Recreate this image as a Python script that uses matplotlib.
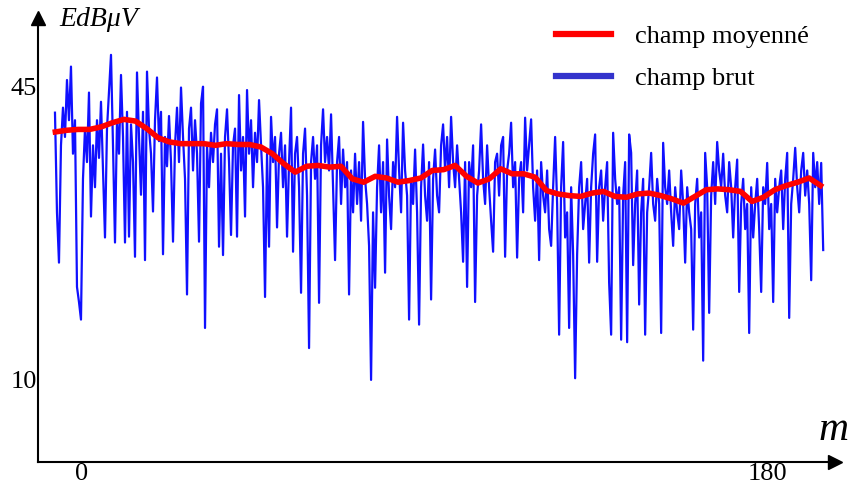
import matplotlib
matplotlib.use("Agg")
import matplotlib.pyplot as plt
from matplotlib.lines import Line2D
import numpy as np

# champ brut (dB uV), de m = -7.1 a m = 194.7
champ_brut = [
    41.9, 30.0, 24.0, 38.0, 42.5, 39.0, 45.8, 41.0, 47.4, 37.0,
    41.0, 21.1, 19.3, 17.2, 34.0, 40.0, 36.0, 44.3, 29.5, 38.0,
    33.0, 41.0, 36.5, 43.2, 35.0, 27.0, 40.0, 44.5, 48.8, 38.0,
    26.4, 41.0, 37.0, 46.4, 39.0, 26.4, 42.0, 27.1, 40.5, 36.0,
    24.7, 46.7, 39.0, 32.1, 42.0, 24.3, 46.8, 40.0, 37.0, 30.1,
    41.0, 46.1, 38.5, 42.0, 25.0, 39.0, 35.5, 41.5, 36.0, 26.5,
    38.0, 42.5, 36.0, 44.9, 39.0, 34.0, 20.2, 40.0, 42.5, 35.0,
    41.0, 37.0, 26.5, 43.0, 45.0, 16.2, 38.0, 33.0, 39.5, 36.0,
    40.5, 42.3, 25.9, 37.0, 24.9, 39.0, 42.3, 36.0, 27.3, 38.0,
    40.0, 27.1, 44.0, 35.0, 39.0, 29.5, 44.6, 37.0, 41.0, 33.0,
    39.5, 36.0, 43.4, 38.0, 33.0, 19.9, 37.0, 25.9, 41.4, 36.0,
    39.0, 28.2, 37.0, 39.5, 33.0, 38.0, 27.1, 36.0, 42.5, 25.3,
    37.0, 39.0, 33.0, 20.4, 37.0, 40.0, 32.0, 13.8, 36.0, 39.0,
    34.0, 38.0, 19.2, 38.0, 42.3, 36.0, 39.0, 35.0, 41.7, 33.0,
    24.3, 36.0, 39.0, 31.0, 37.5, 33.0, 36.0, 20.2, 35.0, 30.0,
    37.0, 31.0, 36.0, 29.0, 40.8, 34.0, 31.0, 26.0, 10.0, 30.0,
    21.0, 33.0, 38.0, 30.0, 36.0, 22.8, 38.7, 32.0, 28.0, 36.0,
    33.0, 41.4, 35.0, 30.0, 40.7, 35.0, 32.0, 17.2, 34.0, 31.0,
    37.5, 30.0, 16.6, 33.0, 38.1, 32.0, 29.0, 36.0, 19.6, 34.0,
    37.5, 32.0, 30.0, 38.0, 40.5, 35.0, 39.0, 33.0, 41.4, 36.0,
    33.0, 38.0, 34.0, 30.0, 24.1, 36.0, 21.1, 36.0, 33.0, 38.0,
    19.3, 32.0, 35.0, 40.5, 34.0, 31.0, 38.0, 33.0, 29.0, 25.3,
    36.0, 37.0, 32.0, 38.0, 39.0, 24.7, 35.0, 37.0, 40.7, 33.0,
    36.0, 24.6, 34.0, 36.0, 30.0, 41.3, 35.0, 38.0, 41.1, 33.0,
    29.0, 35.0, 24.3, 36.0, 32.0, 30.0, 35.0, 28.0, 26.0, 33.0,
    39.0, 31.0, 15.4, 33.0, 38.4, 27.0, 30.0, 16.2, 33.0, 25.0,
    10.2, 25.0, 33.0, 36.0, 28.0, 31.0, 34.0, 24.0, 33.0, 37.0,
    39.3, 24.1, 33.0, 35.0, 29.0, 33.0, 36.0, 21.6, 15.4, 39.5,
    34.0, 31.0, 33.0, 14.8, 32.0, 36.0, 14.5, 39.3, 37.1, 23.7,
    31.0, 35.0, 19.0, 30.0, 34.0, 15.4, 30.0, 33.0, 37.1, 31.0,
    29.0, 34.0, 31.0, 15.6, 38.3, 33.0, 31.0, 35.0, 30.0, 26.0,
    33.0, 30.0, 28.0, 35.0, 31.0, 24.0, 33.0, 30.0, 28.0, 16.0,
    31.0, 34.0, 27.0, 30.0, 12.3, 37.1, 33.0, 18.0, 32.0, 36.0,
    31.0, 38.4, 35.0, 33.0, 37.0, 32.0, 30.0, 36.0, 33.0, 27.0,
    33.0, 36.3, 20.5, 31.0, 34.0, 28.0, 31.0, 15.6, 33.0, 27.0,
    31.0, 34.0, 28.0, 20.5, 33.0, 31.0, 35.9, 28.0, 31.0, 19.3,
    34.0, 30.0, 33.0, 35.0, 28.0, 34.0, 37.1, 17.4, 31.0, 34.0,
    37.7, 33.0, 30.0, 35.0, 37.1, 32.0, 35.0, 31.0, 21.9, 37.1,
    33.0, 36.0, 31.0, 35.9, 25.5,
]

# champ moyenne, un point tous les 3 m de m = -7 a m = 194
champ_moyen = [
    39.6, 39.8, 39.9, 39.9, 40.2, 40.7, 41.1, 40.9, 40.0, 38.9,
    38.4, 38.2, 38.2, 38.2, 38.0, 38.2, 38.1, 38.1, 37.8, 37.0,
    35.8, 34.8, 35.5, 35.6, 35.4, 35.5, 34.0, 33.6, 34.3, 34.1,
    33.6, 33.8, 34.1, 35.0, 35.1, 35.6, 34.3, 33.5, 34.0, 35.2,
    34.6, 34.6, 34.2, 32.6, 32.2, 32.0, 31.9, 32.3, 32.5, 31.9,
    31.8, 32.2, 32.3, 32.0, 31.6, 31.1, 31.9, 32.7, 32.8, 32.7,
    32.5, 31.3, 31.8, 32.7, 33.2, 33.6, 34.1, 33.2,
]

m_brut = np.linspace(-7.1, 194.7, len(champ_brut))
m_moyen = np.arange(len(champ_moyen)) * 3 - 7

plt.rcParams["font.family"] = ["Liberation Serif", "DejaVu Serif"]

fig = plt.figure(figsize=(8.56, 4.87), dpi=100)
ax = fig.add_axes([38 / 856, 25 / 487, 797 / 856, 444 / 487])

ax.plot(m_brut, champ_brut, color="#1010ff", lw=1.6)
ax.plot(m_moyen, champ_moyen, color="#ff0000", lw=4)

ax.set_xlim(-11.56, 197.8)
ax.set_ylim(0.2, 53.2)

for s in ["top", "right"]:
    ax.spines[s].set_visible(False)
for s in ["left", "bottom"]:
    ax.spines[s].set_linewidth(1.5)
ax.plot(1, 0, ">k", ms=10, transform=ax.transAxes, clip_on=False)
ax.plot(0, 1, "^k", ms=10, transform=ax.transAxes, clip_on=False)

ax.set_xticks([0, 180])
ax.set_yticks([10, 45])
ax.tick_params(length=0, labelsize=19, pad=1)

fig.text(99 / 856, 1 - 20 / 487, "EdBμV", style="italic", fontsize=20,
         ha="center", va="center")
fig.text(834 / 856, 1 - 430 / 487, "m", style="italic", fontsize=30,
         ha="center", va="center")

handles = [Line2D([], [], color="#ff0000", lw=4.5),
           Line2D([], [], color="#3333cc", lw=4.5)]
ax.legend(handles, ["champ moyenné", "champ brut"], frameon=False,
          fontsize=19, loc="upper left", bbox_to_anchor=(532 / 856, 1 - 1 / 487),
          bbox_transform=fig.transFigure, handlelength=2.1, handletextpad=0.9,
          labelspacing=0.7)

fig.savefig("out.png", dpi=100)
